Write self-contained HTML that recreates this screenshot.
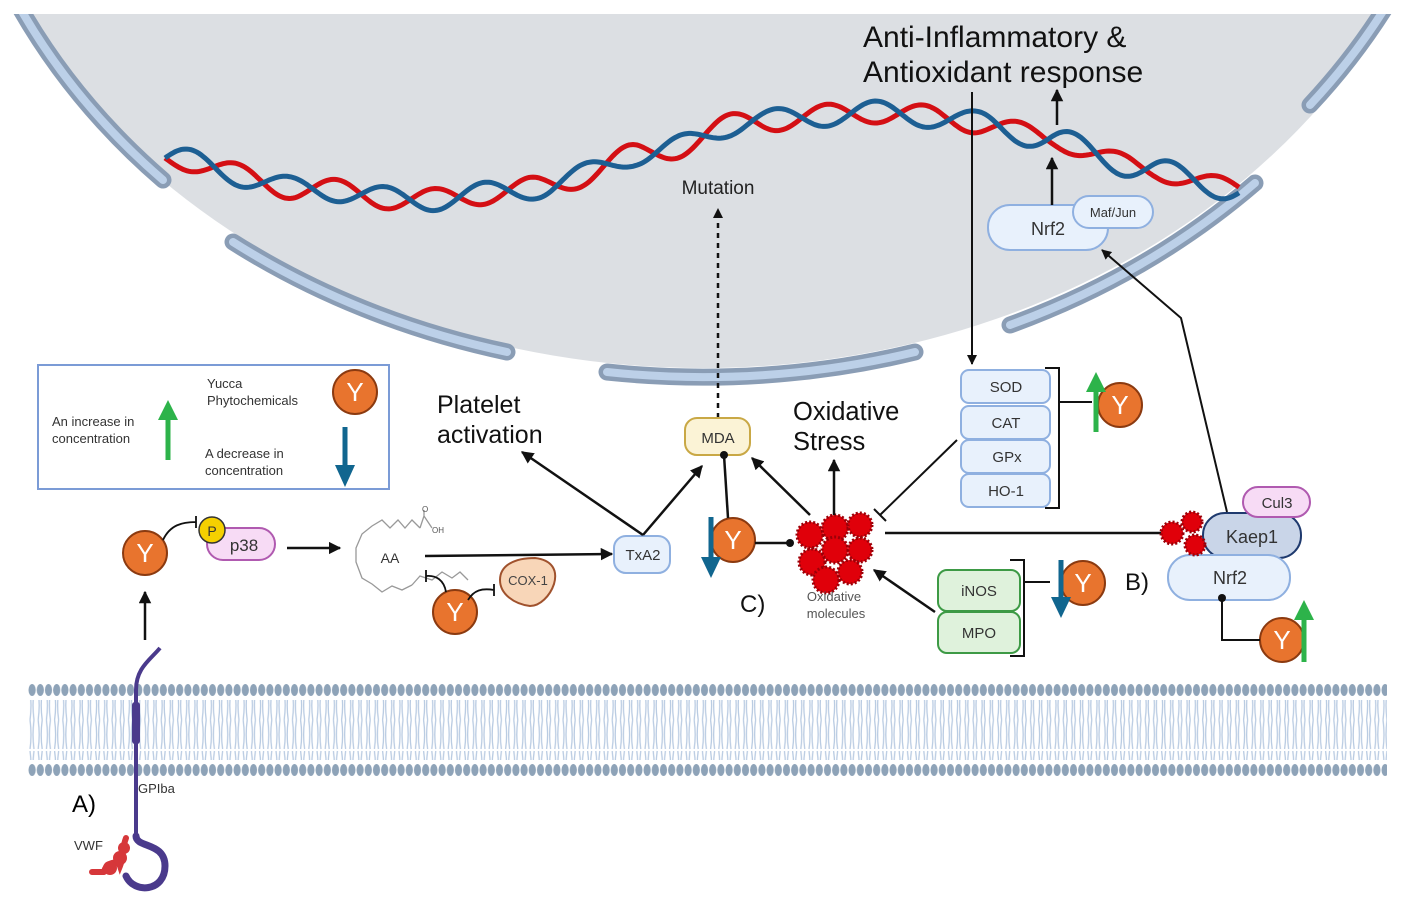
<!DOCTYPE html>
<html><head><meta charset="utf-8"><style>
html,body{margin:0;padding:0;background:#fff;}
svg{display:block;font-family:"Liberation Sans",sans-serif;}
</style></head><body>
<svg id="s" width="1402" height="911" viewBox="0 0 1402 911" xmlns="http://www.w3.org/2000/svg">
<defs>
<marker id="ar" viewBox="0 0 10 10" refX="9" refY="5" markerWidth="5" markerHeight="5" orient="auto-start-reverse"><path d="M0,0L10,5L0,10z" fill="#111"/></marker>
<pattern id="heads" x="28" y="0" width="8.2" height="20" patternUnits="userSpaceOnUse"><ellipse cx="4.1" cy="10" rx="3.6" ry="6" fill="#8ea3b8"/></pattern>
<pattern id="tails" x="28" y="0" width="8.2" height="60" patternUnits="userSpaceOnUse"><path d="M2,0 Q4,15 2,29 M6,0 Q4,15 6,29 M2,31 Q4,45 2,60 M6,31 Q4,45 6,60" stroke="#b9cbe2" stroke-width="1.3" fill="none"/></pattern>
</defs>
<rect width="1402" height="911" fill="#fff"/>
<clipPath id="top"><rect x="0" y="14" width="1402" height="900"/></clipPath>
<g clip-path="url(#top)">
<ellipse cx="703" cy="-282" rx="769" ry="650" fill="#dcdfe3"/>
<g fill="none" stroke-linecap="round">
<g stroke="#8a9db5" stroke-width="17">
<path d="M20,8 A769 650 0 0 0 163,180"/>
<path d="M233,242 A769 650 0 0 0 507,352"/>
<path d="M607,372 A769 650 0 0 0 915,352"/>
<path d="M1010,325 A769 650 0 0 0 1255,183"/>
<path d="M1310,105 A769 650 0 0 0 1390,0"/>
</g>
<g stroke="#bcd0e8" stroke-width="8">
<path d="M20,8 A769 650 0 0 0 163,180"/>
<path d="M233,242 A769 650 0 0 0 507,352"/>
<path d="M607,372 A769 650 0 0 0 915,352"/>
<path d="M1010,325 A769 650 0 0 0 1255,183"/>
<path d="M1310,105 A769 650 0 0 0 1390,0"/>
</g>
</g>
</g>
<path id="dnaR" fill="none" stroke="#d40f14" stroke-width="5"/>
<path id="dnaB" fill="none" stroke="#1d5f93" stroke-width="5"/>

<rect x="28" y="700" width="1359" height="60" fill="url(#tails)"/>
<rect x="28" y="683" width="1359" height="20" fill="url(#heads)"/>
<rect x="28" y="757" width="1359" height="20" fill="url(#heads)"/>

<path d="M160,648 C150,660 136,668 136,690 L136,838" fill="none" stroke="#4a3a8c" stroke-width="4"/>
<rect x="132" y="702" width="8" height="42" rx="3" fill="#4a3a8c"/>
<path d="M136,836 C136,848 165,842 165,866 C165,892 134,894 126,876" fill="none" stroke="#4a3a8c" stroke-width="7" stroke-linecap="round"/>
<path d="M92,872 L104,872 M104,872 C106,862 118,860 120,866 C124,856 122,848 126,838" stroke="#d6373a" stroke-width="6" fill="none" stroke-linecap="round"/>
<circle cx="110" cy="868" r="7" fill="#d6373a"/><circle cx="120" cy="858" r="7" fill="#d6373a"/><circle cx="124" cy="848" r="6" fill="#d6373a"/>
<text x="72" y="812" font-size="24">A)</text>
<text x="138" y="793" font-size="13" fill="#333">GPIba</text>
<text x="74" y="850" font-size="13" fill="#333">VWF</text>

<rect x="38" y="365" width="351" height="124" fill="#fff" stroke="#7b9bd6" stroke-width="2"/>
<text font-size="13" fill="#333"><tspan x="207" y="388">Yucca</tspan><tspan x="207" y="405">Phytochemicals</tspan><tspan x="52" y="426">An increase in</tspan><tspan x="52" y="443">concentration</tspan><tspan x="205" y="458">A decrease in</tspan><tspan x="205" y="475">concentration</tspan></text>
<path d="M168,460 L168,418" stroke="#2db34a" stroke-width="5"/><path d="M158,420 L168,400 L178,420z" fill="#2db34a"/>
<path d="M345,427 L345,470" stroke="#11668f" stroke-width="5"/><path d="M335,465 L345,487 L355,465z" fill="#11668f"/>

<g font-size="26" fill="#fff" text-anchor="middle">
<g><circle cx="355" cy="392" r="22" fill="#e8742e" stroke="#8b3a10" stroke-width="2"/><text x="355" y="401">Y</text></g>
<g><circle cx="145" cy="553" r="22" fill="#e8742e" stroke="#8b3a10" stroke-width="2"/><text x="145" y="562">Y</text></g>
<g><circle cx="455" cy="612" r="22" fill="#e8742e" stroke="#8b3a10" stroke-width="2"/><text x="455" y="621">Y</text></g>
<g><circle cx="733" cy="540" r="22" fill="#e8742e" stroke="#8b3a10" stroke-width="2"/><text x="733" y="549">Y</text></g>
<g><circle cx="1120" cy="405" r="22" fill="#e8742e" stroke="#8b3a10" stroke-width="2"/><text x="1120" y="414">Y</text></g>
<g><circle cx="1083" cy="583" r="22" fill="#e8742e" stroke="#8b3a10" stroke-width="2"/><text x="1083" y="592">Y</text></g>
<g><circle cx="1282" cy="640" r="22" fill="#e8742e" stroke="#8b3a10" stroke-width="2"/><text x="1282" y="649">Y</text></g>
</g>

<path d="M145,640 L145,592" stroke="#111" stroke-width="2.5" marker-end="url(#ar)"/>
<path d="M163,540 C170,525 182,522 196,522 M196,516 L196,528" stroke="#111" stroke-width="1.8" fill="none"/>
<rect x="207" y="528" width="68" height="32" rx="16" fill="#f7dbf5" stroke="#b05ab0" stroke-width="2"/>
<text x="244" y="551" font-size="17" text-anchor="middle" fill="#333">p38</text>
<circle cx="212" cy="530" r="13" fill="#f5d000" stroke="#333" stroke-width="1.5"/>
<text x="212" y="536" font-size="14" text-anchor="middle" fill="#333">P</text>
<path d="M287,548 L340,548" stroke="#111" stroke-width="2.5" marker-end="url(#ar)"/>
<path d="M420,528 L412,520 L405,528 L398,520 L390,528 L382,520 L372,526 L362,534 L356,548 L356,562 L362,578 L372,584 L382,592 L392,586 L402,590 L412,585 M356,550 L356,562 M420,528 L424,516 L424,510 M424,516 L432,528 M412,585 L420,576 L432,580 L442,572 L452,578 L460,572 L468,580" fill="none" stroke="#999" stroke-width="1.3"/>
<text x="390" y="563" font-size="14" text-anchor="middle" fill="#333">AA</text>
<text x="432" y="533" font-size="8" fill="#555">OH</text><text x="422" y="512" font-size="8" fill="#555">O</text>
<path d="M425,556 L612,554" stroke="#111" stroke-width="2.5" marker-end="url(#ar)"/>
<path d="M446,592 C444,580 436,575 426,576 M426,570 L426,582" stroke="#111" stroke-width="1.8" fill="none"/>
<path d="M468,600 C474,590 482,588 494,590 M494,584 L494,596" stroke="#111" stroke-width="1.8" fill="none"/>
<path d="M500,580 C500,565 515,558 535,558 C552,560 558,570 554,584 C550,596 540,606 530,606 C514,604 500,594 500,580z" fill="#f8d6b8" stroke="#a0522d" stroke-width="2"/>
<text x="528" y="585" font-size="13" text-anchor="middle" fill="#444">COX-1</text>
<rect x="614" y="536" width="56" height="37" rx="12" fill="#e8f1fc" stroke="#8fb0e0" stroke-width="2"/>
<text x="643" y="560" font-size="15" text-anchor="middle" fill="#333">TxA2</text>
<path d="M643,535 L522,452" stroke="#111" stroke-width="2.5" marker-end="url(#ar)"/>
<path d="M643,535 L702,466" stroke="#111" stroke-width="2.5" marker-end="url(#ar)"/>
<text font-size="25" fill="#111"><tspan x="437" y="413">Platelet</tspan><tspan x="437" y="443">activation</tspan></text>

<path d="M718,418 L718,210" stroke="#111" stroke-width="2.5" stroke-dasharray="5,5"/>
<path d="M713,218 L718,208 L723,218z" fill="#111"/>
<text x="718" y="194" font-size="19" text-anchor="middle" fill="#222">Mutation</text>
<rect x="685" y="418" width="65" height="37" rx="12" fill="#fbf3d6" stroke="#c9a845" stroke-width="2"/>
<text x="718" y="443" font-size="15" text-anchor="middle" fill="#333">MDA</text>
<path d="M724,455 L728,518" stroke="#111" stroke-width="2.5"/><circle cx="724" cy="455" r="4" fill="#111"/>
<path d="M711,517 L711,560" stroke="#11668f" stroke-width="5"/><path d="M701,557 L711,578 L721,557z" fill="#11668f"/>
<path d="M755,543 L790,543" stroke="#111" stroke-width="2.5"/><circle cx="790" cy="543" r="4" fill="#111"/>
<text x="740" y="612" font-size="24" fill="#111">C)</text>

<g fill="#e0000a" stroke="#9b0008" stroke-width="3" stroke-dasharray="2,2">
<circle cx="810" cy="535" r="13"/><circle cx="835" cy="528" r="13"/><circle cx="860" cy="525" r="12"/>
<circle cx="812" cy="562" r="13"/><circle cx="835" cy="550" r="13"/><circle cx="860" cy="550" r="12"/>
<circle cx="826" cy="580" r="13"/><circle cx="850" cy="572" r="12"/>
</g>
<text font-size="13" fill="#555" text-anchor="middle"><tspan x="834" y="601">Oxidative</tspan><tspan x="836" y="618">molecules</tspan></text>
<path d="M810,515 L752,458" stroke="#111" stroke-width="2.5" marker-end="url(#ar)"/>
<path d="M834,515 L834,460" stroke="#111" stroke-width="2.5" marker-end="url(#ar)"/>
<path d="M957,440 L880,515 M874,509 L886,521" stroke="#111" stroke-width="2"/>
<path d="M885,533 L1183,533" stroke="#111" stroke-width="2.5" marker-end="url(#ar)"/>
<text font-size="25.5" fill="#111"><tspan x="793" y="420">Oxidative</tspan><tspan x="793" y="450">Stress</tspan></text>

<g fill="#e8f1fc" stroke="#8fb0e0" stroke-width="2">
<rect x="961" y="370" width="89" height="33" rx="8"/><rect x="961" y="406" width="89" height="33" rx="8"/>
<rect x="961" y="440" width="89" height="33" rx="8"/><rect x="961" y="474" width="89" height="33" rx="8"/>
</g>
<text font-size="15" fill="#333" text-anchor="middle"><tspan x="1006" y="392">SOD</tspan><tspan x="1006" y="428">CAT</tspan><tspan x="1007" y="462">GPx</tspan><tspan x="1006" y="496">HO-1</tspan></text>
<path d="M1045,368 L1059,368 L1059,508 L1045,508 M1059,402 L1092,402" stroke="#111" stroke-width="2" fill="none"/>
<path d="M1096,432 L1096,388" stroke="#2db34a" stroke-width="5"/><path d="M1086,392 L1096,372 L1106,392z" fill="#2db34a"/>
<path d="M972,92 L972,364" stroke="#111" stroke-width="2" marker-end="url(#ar)"/>

<g fill="#dff2dc" stroke="#3d9a45" stroke-width="2">
<rect x="938" y="570" width="82" height="41" rx="9"/><rect x="938" y="612" width="82" height="41" rx="9"/>
</g>
<text font-size="15" fill="#333" text-anchor="middle"><tspan x="979" y="596">iNOS</tspan><tspan x="979" y="638">MPO</tspan></text>
<path d="M1010,560 L1024,560 L1024,656 L1010,656 M1024,582 L1050,582" stroke="#111" stroke-width="2" fill="none"/>
<path d="M1061,560 L1061,600" stroke="#11668f" stroke-width="5"/><path d="M1051,597 L1061,618 L1071,597z" fill="#11668f"/>
<path d="M935,612 L874,570" stroke="#111" stroke-width="2.5" marker-end="url(#ar)"/>
<text x="1125" y="590" font-size="24" fill="#111">B)</text>

<rect x="1203" y="513" width="98" height="45" rx="22" fill="#c9d5e8" stroke="#1f3a6e" stroke-width="2"/>
<text x="1252" y="543" font-size="18" text-anchor="middle" fill="#333">Kaep1</text>
<rect x="1243" y="487" width="67" height="30" rx="15" fill="#f7dbf5" stroke="#b05ab0" stroke-width="2"/>
<text x="1277" y="508" font-size="15" text-anchor="middle" fill="#333">Cul3</text>
<rect x="1168" y="555" width="122" height="45" rx="22" fill="#e8f1fc" stroke="#8fb0e0" stroke-width="2"/>
<text x="1230" y="584" font-size="18" text-anchor="middle" fill="#333">Nrf2</text>
<g fill="#e0000a" stroke="#9b0008" stroke-width="3" stroke-dasharray="2,2">
<circle cx="1172" cy="533" r="11"/><circle cx="1192" cy="522" r="10"/><circle cx="1195" cy="545" r="10"/>
</g>
<path d="M1222,598 L1222,640 L1260,640" stroke="#111" stroke-width="2" fill="none"/><circle cx="1222" cy="598" r="4" fill="#111"/>
<path d="M1304,662 L1304,616" stroke="#2db34a" stroke-width="5"/><path d="M1294,620 L1304,600 L1314,620z" fill="#2db34a"/>
<path d="M1227,512 L1181,318 L1102,250" stroke="#111" stroke-width="2" fill="none" marker-end="url(#ar)"/>

<rect x="988" y="205" width="120" height="45" rx="22" fill="#e8f1fc" stroke="#8fb0e0" stroke-width="2"/>
<text x="1048" y="235" font-size="18" text-anchor="middle" fill="#333">Nrf2</text>
<rect x="1073" y="196" width="80" height="32" rx="16" fill="#e8f1fc" stroke="#8fb0e0" stroke-width="2"/>
<text x="1113" y="217" font-size="13" text-anchor="middle" fill="#333">Maf/Jun</text>
<path d="M1052,205 L1052,158" stroke="#111" stroke-width="2.5" marker-end="url(#ar)"/>
<path d="M1057,125 L1057,90" stroke="#111" stroke-width="2.5" marker-end="url(#ar)"/>
<text font-size="30" fill="#111"><tspan x="863" y="47">Anti-Inflammatory  &amp;</tspan><tspan x="863" y="82">Antioxidant response</tspan></text>
</svg>
<script>
(function(){
var pts=[[165,158],[300,188],[420,200],[540,188],[640,155],[760,120],[880,112],[980,122],[1050,140],[1150,170],[1240,190]];
function axis(x){for(var i=0;i<pts.length-1;i++){if(x<=pts[i+1][0]){var t=(x-pts[i][0])/(pts[i+1][0]-pts[i][0]);var a=(1-Math.cos(t*Math.PI))/2;return pts[i][1]+(pts[i+1][1]-pts[i][1])*a;}}return pts[pts.length-1][1];}
var r="",b="";
for(var x=165;x<=1240;x+=2){var y=axis(x),s=11*Math.sin((x-165)/98*2*Math.PI);r+=(x==165?"M":"L")+x+","+(y+s).toFixed(1);b+=(x==165?"M":"L")+x+","+(y-s).toFixed(1);}
document.getElementById("dnaR").setAttribute("d",r);document.getElementById("dnaB").setAttribute("d",b);
})();
</script>
</body></html>
